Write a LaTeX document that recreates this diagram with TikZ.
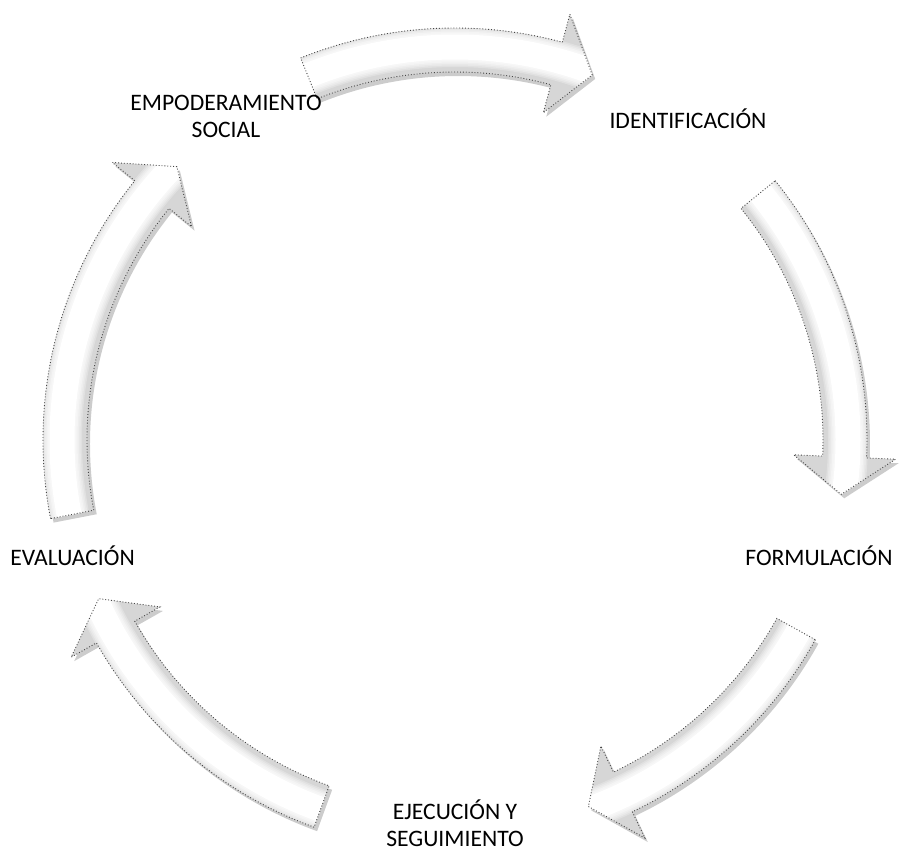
\documentclass[tikz,border=0pt]{standalone}
\usepackage{fontspec}
\setmainfont{Carlito}
\usetikzlibrary{shadows}

\tikzset{
	stage/.style={font=\fontsize{11.8}{13.5}\selectfont, inner sep=0pt, align=center},
	arrowpath/.style 2 args={insert path={(#1:412) arc[start angle=#1, end angle=#2+5.5, radius=412] -- (#2+5.5:441) -- (#2:390) -- (#2+5.5:339) -- (#2+5.5:368) arc[start angle=#2+5.5, end angle=#1, radius=368] -- cycle}},
	arrowedge/.style={draw=gray!55!black, densely dotted, line width=0.45pt},
}

\newcommand{\cyclearrow}[2]{%
	\fill[gray!32, drop shadow={shadow xshift=1.5pt, shadow yshift=-2pt, opacity=.2, fill=black}, arrowpath={#1}{#2}];
	\begin{scope}
		\clip[arrowpath={#1}{#2}];
		\foreach \w/\c in {20/24, 18.5/18, 17/13, 15.5/9, 14/6, 12.5/3.5, 11/1.5, 9/0}
			\draw[white!\the\numexpr100-\c\relax!gray, line width=\w pt] (#1:393) arc[start angle=#1, end angle=#2, radius=393];
	\end{scope}
	\draw[arrowedge, arrowpath={#1}{#2}];
}

\begin{document}
\begin{tikzpicture}[x=0.5pt, y=0.5pt]
	\useasboundingbox (-455,-412) rectangle (459,440);
	\cyclearrow{112}{69.4}
	\cyclearrow{39}{-8}
	\cyclearrow{-29}{-70}
	\cyclearrow{250}{204}
	\cyclearrow{191}{135.5}
	\node[stage, anchor=south] (empod) at (-229,302) {EMPODERAMIENTO\\SOCIAL};
	\node[stage, anchor=base] (ident) at (233,312) {IDENTIFICACIÓN};
	\node[stage, anchor=base west] (formul) at (290,-125) {FORMULACIÓN};
	\node[stage, anchor=south] (ejec) at (0,-407) {EJECUCIÓN Y\\SEGUIMIENTO};
	\node[stage, anchor=base west] (evalu) at (-445,-125) {EVALUACIÓN};
\end{tikzpicture}
\end{document}
